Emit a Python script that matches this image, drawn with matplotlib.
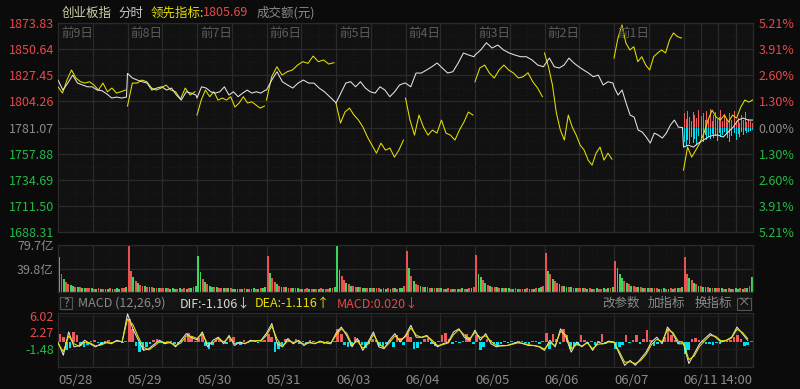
import numpy as np
import matplotlib
matplotlib.use('Agg')
import matplotlib.pyplot as plt
from matplotlib.patches import Rectangle
from matplotlib.transforms import blended_transform_factory

plt.rcParams['font.family'] = ['Noto Sans CJK SC', 'DejaVu Sans']

# ---- data ----
prev_close = 1781.07
last_lead = 1805.69
price_ticks = [1873.83, 1850.64, 1827.45, 1804.26, 1781.07, 1757.88, 1734.69, 1711.50, 1688.31]
dates = ['05/28', '05/29', '05/30', '05/31', '06/03', '06/04', '06/05', '06/06', '06/07', '06/11']
day_tags = ['前9日', '前8日', '前7日', '前6日', '前5日', '前4日', '前3日', '前2日', '前1日']
vol_ticks = [39.8, 79.7]
macd_ticks = [6.02, 2.27, -1.48]

# 创业板指 (white line), one list per day
index_0528 = [1823.2, 1814.3, 1820.5, 1827.6, 1820.5, 1818.8, 1817.2, 1817.2, 1814.3, 1813.7, 1810.8, 1807.2, 1808.1, 1807.2, 1808.1]
index_0529 = [1829.1, 1825.0, 1823.2, 1821.7, 1820.5, 1814.3, 1816.1, 1817.2, 1814.3, 1816.1, 1809.9, 1805.4, 1812.8, 1811.6, 1809.9]
index_0530 = [1807.2, 1817.2, 1816.1, 1812.8, 1811.6, 1812.8, 1817.2, 1809.9, 1812.8, 1808.4, 1811.6, 1814.3, 1811.6, 1812.8, 1811.6, 1814.3]
index_0531 = [1814.3, 1823.2, 1830.6, 1821.7, 1818.8, 1816.1, 1820.5, 1823.2, 1820.5, 1820.5, 1816.1, 1812.8, 1808.4, 1803.9]
index_0603 = [1802.8, 1811.6, 1820.5, 1821.7, 1817.2, 1821.7, 1816.1, 1812.8, 1811.6, 1817.2, 1814.3, 1808.4, 1812.8, 1818.8, 1820.5]
index_0604 = [1820.5, 1817.2, 1829.4, 1829.4, 1832.1, 1835.0, 1838.3, 1833.9, 1829.4, 1830.6, 1838.3, 1847.2, 1845.4, 1843.9]
index_0605 = [1845.4, 1849.9, 1856.3, 1851.6, 1854.3, 1849.9, 1847.2, 1845.4, 1843.9, 1843.9, 1841.0, 1836.5, 1835.0]
index_0606 = [1836.5, 1842.7, 1835.0, 1833.9, 1836.5, 1842.7, 1838.3, 1835.0, 1832.1, 1829.4, 1826.1, 1827.6, 1818.8, 1821.7, 1820.5]
index_0607 = [1817.2, 1809.9, 1814.3, 1802.8, 1792.1, 1790.3, 1778.8, 1777.0, 1772.6, 1767.2, 1776.1, 1774.3, 1771.7, 1776.1, 1783.2, 1787.7, 1781.4, 1781.07]
index_0611 = [1763.7, 1765.4, 1763.7, 1767.2, 1769.9, 1772.6, 1774.3, 1774.3, 1772.6, 1777.0, 1781.4, 1787.7, 1789.4, 1787.7, 1787.7]

# 领先指标 (yellow line), one list per day
lead_0528 = [1817.2, 1811.6, 1823.2, 1832.1, 1825.0, 1821.7, 1820.5, 1821.7, 1818.8, 1814.3, 1820.5, 1812.8, 1816.1, 1811.6, 1812.8, 1814.3]
lead_0529 = [1800.1, 1820.5, 1820.5, 1823.2, 1821.7, 1816.1, 1814.3, 1816.1, 1818.8, 1814.3, 1812.8, 1806.3, 1816.1, 1809.9, 1812.8]
lead_0530 = [1792.1, 1805.4, 1814.3, 1808.4, 1812.8, 1805.4, 1807.2, 1805.4, 1808.4, 1799.2, 1802.8, 1808.4, 1802.8, 1803.9, 1801.0, 1798.3, 1800.1]
lead_0531 = [1805.4, 1826.1, 1835.0, 1827.6, 1830.6, 1832.1, 1836.5, 1839.5, 1838.0, 1844.5, 1839.5, 1841.0, 1837.4, 1838.6]
lead_0603 = [1802.8, 1785.0, 1794.8, 1798.3, 1792.1, 1787.7, 1781.4, 1772.6, 1765.4, 1758.3, 1767.2, 1761.0, 1762.8, 1754.8, 1761.0, 1769.9]
lead_0604 = [1807.2, 1787.7, 1774.3, 1792.1, 1781.4, 1774.3, 1778.8, 1776.1, 1787.7, 1776.1, 1774.3, 1769.9, 1778.8, 1785.9, 1794.8, 1792.1]
lead_0605 = [1821.7, 1833.9, 1836.5, 1829.4, 1825.0, 1832.1, 1836.5, 1832.1, 1829.4, 1825.0, 1826.1, 1829.7, 1821.7, 1816.1, 1808.4]
lead_0606 = [1847.2, 1835.0, 1818.8, 1793.9, 1778.8, 1769.9, 1792.1, 1781.4, 1774.3, 1765.4, 1761.0, 1752.1, 1747.7, 1758.3, 1763.7, 1752.1, 1758.3, 1753.0]
lead_0607 = [1842.7, 1860.5, 1872.1, 1856.1, 1849.9, 1852.8, 1839.5, 1843.9, 1836.5, 1832.1, 1843.9, 1847.2, 1849.9, 1847.2, 1858.7, 1865.0, 1861.7, 1860.5]
lead_0611 = [1743.2, 1763.7, 1754.8, 1761.0, 1767.2, 1776.1, 1787.7, 1796.5, 1790.3, 1787.7, 1792.1, 1785.9, 1792.1, 1789.4, 1799.2, 1805.4, 1803.6, 1805.69]

# today's buy / sell strength bars around the previous close (index points)
buy_bars = [12.6, 7.2, 14.4, 9.0, 5.4, 13.5, 10.8, 8.1, 15.3, 4.5, 9.9, 12.6, 6.3, 14.4, 8.1, 16.2, 5.4, 10.8, 13.5, 7.2,
            9.0, 15.3, 5.4, 11.7, 8.1, 4.5, 12.6, 6.3, 9.9, 14.4, 5.4, 8.1, 3.6, 10.8, 6.3, 13.5, 4.5, 7.2, 5.4, 3.6]
sell_bars = [12.6, 16.2, 10.8, 14.4, 8.1, 13.5, 9.9, 15.3, 7.2, 11.7, 9.0, 12.6, 6.3, 10.8, 8.1, 9.9, 5.4, 9.0, 7.2, 11.7,
             4.5, 8.1, 6.3, 3.6, 5.4, 9.0, 12.6, 7.2, 14.4, 4.5, 10.8, 5.4, 8.1, 3.6, 6.3, 2.7, 4.5, 3.6, 2.7, 1.8]

# turnover (亿), 30 bars per day, with up(r)/down(g) flags
vol_0528 = [60, 30, 22, 17, 14, 12, 10, 9, 8, 8, 7, 7, 6, 6, 6, 5, 5, 6, 5, 5, 5, 5, 6, 5, 5, 6, 5, 6, 7, 9]
vol_0529 = [78, 36, 26, 19, 15, 12, 11, 10, 9, 8, 8, 7, 7, 7, 6, 6, 6, 6, 5, 6, 5, 5, 6, 5, 6, 5, 6, 6, 8, 10]
vol_0530 = [61, 34, 22, 17, 13, 11, 9, 8, 8, 7, 7, 7, 6, 6, 6, 5, 5, 5, 5, 5, 6, 5, 5, 5, 6, 5, 5, 6, 7, 8]
vol_0531 = [61, 32, 23, 17, 13, 10, 9, 9, 8, 7, 7, 6, 6, 6, 5, 5, 5, 6, 5, 5, 5, 5, 5, 6, 5, 5, 5, 6, 7, 9]
vol_0603 = [80, 38, 27, 21, 16, 13, 11, 10, 9, 8, 8, 7, 7, 7, 6, 6, 6, 6, 6, 5, 6, 5, 6, 5, 6, 6, 5, 6, 7, 10]
vol_0604 = [69, 40, 27, 19, 14, 12, 10, 9, 8, 8, 7, 7, 6, 6, 6, 6, 5, 5, 6, 5, 5, 5, 5, 5, 6, 5, 5, 6, 7, 9]
vol_0605 = [63, 30, 25, 20, 16, 12, 10, 9, 8, 8, 7, 7, 6, 6, 6, 5, 5, 6, 5, 5, 5, 5, 6, 5, 5, 5, 6, 6, 8, 11]
vol_0606 = [66, 36, 30, 22, 18, 16, 13, 11, 10, 9, 8, 8, 7, 7, 6, 6, 6, 6, 5, 6, 5, 5, 6, 5, 5, 6, 5, 6, 7, 9]
vol_0607 = [52, 40, 30, 24, 18, 15, 13, 11, 10, 9, 9, 8, 7, 7, 6, 6, 6, 6, 6, 5, 5, 6, 5, 5, 6, 5, 6, 6, 7, 9]
vol_0611 = [59, 31, 24, 20, 16, 13, 11, 10, 9, 8, 8, 7, 7, 6, 6, 6, 6, 5, 5, 6, 5, 5, 6, 5, 6, 5, 6, 7, 10, 26]
vol_dirs = ['grgrrggrgrggrrgrgrgrggrgrggrrg', 'rrgrgrrgrgrgrgrrgrgggrgrrgrgrg',
            'ggrgrggrgrrgrgrgggrgrgrrgrgrgg', 'rgrrgrgrgrrgrgrgrrgrgrgrgrrgrg',
            'ggrrgrgrrgrggrgrgrrgrgrgrgrggr', 'rgrgrrgrgrrgrgrgrgrrgrgrgrgrgr',
            'rggrgrgrrgrgrggrgrgrrgrgrgrggr', 'rgrgrrgrggrgrgrrgrgrgrgrrgrgrg',
            'rgggrgrgrrgrgrgrgrrgrgrgrgrgrg', 'rrgrgrgrggrgrgrrgrgrgrggrgrgrg']

# MACD(12,26,9): 13 line points and 20 histogram bars per day
dif = [0.0, -3.0, 2.3, -1.1, -0.8, 0.4, -0.4, -1.1, -0.4, 0.0, -0.4, 0.4, 0.0,
       6.4, 3.0, 0.5, -1.9, -1.5, -0.5, 0.4, -0.4, 0.0, -1.1, 0.4, 1.9, 1.0,
       0.5, 2.3, -1.1, 0.4, 1.1, -0.4, 1.5, -0.8, 0.0, -0.4, 0.4, 0.2, 0.4,
       2.0, 4.2, -0.4, -1.1, 0.8, -0.4, 0.4, -0.8, 0.0, -0.4, 0.2, -0.2, -0.4,
       2.0, 3.4, 1.5, -1.1, 0.8, -1.9, 0.0, 2.3, -1.1, -1.5, 0.4, 1.9, 0.0,
       1.5, 3.8, 1.1, 1.1, 1.5, 0.0, -1.1, -0.4, 0.0, 2.3, 3.0, 1.1, 0.4,
       2.7, 0.4, 1.9, -0.4, -1.1, -0.8, -0.8, -0.4, 0.0, -0.4, -0.8, -0.8, -1.1,
       -1.9, 0.4, -1.1, 3.0, 1.1, -2.3, 0.0, -1.1, 0.0, -1.9, 0.0, -0.4, 0.2,
       0.0, -2.7, -5.3, -4.2, -5.3, -3.8, -2.3, 0.0, 1.1, -0.4, 3.4, 1.9, -0.4,
       -0.4, -4.9, -2.7, -0.4, 0.8, 1.9, 1.1, 0.0, 0.4, 1.1, 3.4, 1.9, 0.4]
dea = [-0.3, -2.2, 1.4, -0.4, -1.0, 0.0, -0.2, -0.9, -0.7, -0.2, -0.2, 0.2, 0.1,
       5.2, 4.0, 1.2, -1.2, -1.8, -0.9, 0.1, -0.1, -0.2, -0.8, -0.2, 1.4, 1.3,
       0.8, 1.8, -0.4, -0.2, 0.9, 0.0, 1.1, -0.3, -0.3, -0.3, 0.2, 0.3, 0.3,
       1.5, 3.6, 0.6, -1.0, 0.3, -0.1, 0.2, -0.5, -0.2, -0.3, 0.0, -0.1, -0.3,
       1.5, 3.0, 2.0, -0.6, 0.2, -1.4, -0.5, 1.7, -0.3, -1.4, -0.2, 1.4, 0.5,
       1.2, 3.2, 1.6, 1.0, 1.3, 0.4, -0.8, -0.6, -0.2, 1.7, 2.8, 1.6, 0.7,
       2.2, 1.0, 1.4, 0.1, -0.8, -0.9, -0.8, -0.5, -0.2, -0.3, -0.6, -0.8, -1.0,
       -1.6, -0.2, -0.8, 2.4, 1.6, -1.6, -0.6, -0.9, -0.2, -1.5, -0.5, -0.4, 0.0,
       -0.1, -2.2, -4.6, -4.5, -4.9, -4.2, -2.8, -0.6, 0.6, 0.1, 2.8, 2.2, 0.2,
       -0.2, -4.0, -3.2, -1.0, 0.3, 1.5, 1.3, 0.3, 0.3, 0.9, 2.9, 2.2, 0.8]
macd_hist = [1.8, 1.2, -1.9, -1.4, 2.3, 1.5, -0.8, -1.1, -0.6, 0.3, 0.5, -0.3, -0.6, 0.2, 0.4, -0.3, 0.2, 0.3, -0.2, 0.3,
             5.3, 3.0, -1.0, -2.3, -1.8, -1.2, -0.5, 0.4, 0.6, -0.3, -0.5, 0.3, 0.2, -0.4, -0.6, 0.5, 1.0, 2.0, 1.2, 0.3,
             1.0, 1.8, -0.9, -1.5, -0.6, 0.5, 0.8, 0.3, -0.4, 0.7, 1.2, -0.3, -0.6, 0.4, -0.3, 0.2, 0.3, -0.2, 0.2, 0.5,
             1.9, 1.2, -2.3, -1.5, -0.6, 0.8, 0.4, -0.3, 0.6, -0.5, 0.3, -0.4, 0.5, 0.2, -0.3, 0.3, -0.5, 0.2, -0.3, 0.2,
             3.0, 1.8, -0.6, -1.2, -0.8, 1.1, 0.5, -0.6, -1.3, -0.4, 0.6, 0.4, -0.9, -1.1, -0.5, 0.4, -1.2, 1.5, 0.9, -0.6,
             2.0, 1.2, -1.5, -1.4, -0.5, 0.6, 0.9, -0.4, -0.8, 0.3, 1.6, 2.0, 0.8, -0.5, 0.3, -0.3, 0.2, 1.8, 1.1, -0.4,
             1.5, -1.9, -1.2, 0.7, 0.4, -0.5, -0.6, -0.4, 0.3, -0.3, 0.2, -0.4, 0.3, 0.2, -0.3, -0.5, 0.2, 0.3, -0.4, 0.2,
             2.0, -1.5, 1.8, 0.6, -0.5, 3.0, 1.5, -1.5, -1.2, -0.6, 1.5, 0.4, -0.4, 0.3, -0.6, 0.3, 1.8, -0.4, 0.3, -0.3,
             -1.5, -1.2, -0.6, 1.5, -0.3, 0.4, 1.5, -0.4, 0.6, 2.7, 0.4, -1.0, -0.5, 0.3, 1.2, 3.0, 1.6, 0.4, -0.3, 0.2,
             -2.7, -1.8, 0.6, 1.0, 0.5, 0.3, -0.4, -0.5, -0.6, -0.3, -0.4, 0.2, 0.3, 0.4, 1.1, 1.5, 0.6, -0.8, -0.6, 0.3]

index_days = [index_0528, index_0529, index_0530, index_0531, index_0603,
              index_0604, index_0605, index_0606, index_0607, index_0611]
lead_days = [lead_0528, lead_0529, lead_0530, lead_0531, lead_0603,
             lead_0604, lead_0605, lead_0606, lead_0607, lead_0611]
vol_days = [vol_0528, vol_0529, vol_0530, vol_0531, vol_0603,
            vol_0604, vol_0605, vol_0606, vol_0607, vol_0611]

# ---- colours ----
BG = '#0b0b0b'
PANEL = '#111111'
GRID = '#2a2a2a'
GRID_MINOR = '#1c1c1c'
RED = '#e8484a'
GREEN = '#25b847'
YELLOW = '#e6e000'
WHITE = '#e4e4e4'
CYAN = '#00dfee'
GREY = '#8a8a8a'
TAG = '#5c5c5c'
LW = 0.75

W, H = 800, 389


def fig_rect(x0, y0, x1, y1):
    # pixel box (top-left origin) -> figure fraction rect
    return [x0 / W, 1 - y1 / H, (x1 - x0) / W, (y1 - y0) / H]


def draw_grid(ax):
    major = [d + f for d in range(9) for f in (0.5, 1.0)] + [9.25, 9.5, 9.75]
    minor = [d + f for d in range(9) for f in (0.25, 0.75)]
    for x in minor:
        ax.axvline(x, color=GRID_MINOR, lw=0.8, ls=(0, (1, 2)), zorder=0)
    for x in major:
        ax.axvline(x, color=GRID, lw=0.9, zorder=0)
    ax.set_xlim(0, 10)
    ax.set_facecolor(PANEL)
    for s in ax.spines.values():
        s.set_color(GRID)
        s.set_linewidth(0.9)
    ax.tick_params(axis='both', length=0, labelsize=9)
    ax.set_xticks([])


fig = plt.figure(figsize=(W / 100, H / 100), dpi=100, facecolor=BG)

# ---- main price panel ----
ax = fig.add_axes(fig_rect(58, 23, 753, 232))
draw_grid(ax)
ax.set_ylim(price_ticks[-1], price_ticks[0])
for i in range(len(price_ticks) - 1):
    ax.axhline((price_ticks[i] + price_ticks[i + 1]) / 2, color=GRID_MINOR, lw=0.8, ls=(0, (1, 2)), zorder=0)
for p in price_ticks:
    ax.axhline(p, color=GRID, lw=0.9, zorder=0)
ax.set_yticks(price_ticks)
ax.set_yticklabels(['%.2f' % p for p in price_ticks])
ax.tick_params(axis='y', pad=3)
for lbl, p in zip(ax.get_yticklabels(), price_ticks):
    lbl.set_color(RED if p > prev_close + 0.01 else (GREEN if p < prev_close - 0.01 else GREY))

axr = ax.twinx()
axr.set_ylim(ax.get_ylim())
axr.set_yticks(price_ticks)
axr.set_yticklabels(['%.2f%%' % abs((p - prev_close) / prev_close * 100) for p in price_ticks])
axr.tick_params(axis='y', length=0, labelsize=9, pad=4)
for s in axr.spines.values():
    s.set_visible(False)
for lbl, p in zip(axr.get_yticklabels(), price_ticks):
    lbl.set_color(RED if p > prev_close + 0.01 else (GREEN if p < prev_close - 0.01 else GREY))

# today's strength bars
nb = len(buy_bars)
bx = 9 + (np.arange(nb) + 0.5) / nb
ax.bar(bx, buy_bars, bottom=prev_close, width=0.55 / nb, color='#f25d5d', lw=0, zorder=2)
ax.bar(bx, [-v for v in sell_bars], bottom=prev_close, width=0.55 / nb, color=CYAN, lw=0, zorder=2)

# white index line (continuous across days)
wx, wy = [], []
for d, vals in enumerate(index_days):
    span = 1.0 if d == 9 else 0.985
    wx.extend(d + np.linspace(0, span, len(vals)))
    wy.extend(vals)
ax.plot(wx, wy, color=WHITE, lw=LW, zorder=4)

# yellow leading indicator, broken between days
for d, vals in enumerate(lead_days):
    span = 1.0 if d == 9 else 0.97
    ax.plot(d + np.linspace(0, span, len(vals)), vals, color=YELLOW, lw=LW, zorder=3)

tr = blended_transform_factory(ax.transData, ax.transAxes)
for d, tag in enumerate(day_tags):
    ax.text(d + 0.045, 0.952, tag, transform=tr, color=TAG, fontsize=9, va='center', ha='left', zorder=5)

# ---- volume panel ----
axv = fig.add_axes(fig_rect(58, 245, 753, 292))
draw_grid(axv)
axv.set_ylim(0, vol_ticks[-1])
for v in vol_ticks:
    axv.axhline(v, color=GRID, lw=0.9, zorder=0)
for d, (vals, dirs) in enumerate(zip(vol_days, vol_dirs)):
    n = len(vals)
    x = d + (np.arange(n) + 0.5) / n
    cols = ['#e8524f' if c == 'r' else '#3dd65a' for c in dirs]
    axv.bar(x, vals, width=0.8 / n, color=cols, lw=0, zorder=2)
axv.set_yticks(vol_ticks)
axv.set_yticklabels(['%.1f亿' % v for v in vol_ticks], color=GREY)
axv.tick_params(axis='y', pad=3)

# ---- MACD header band ----
fig.patches.append(Rectangle((58 / W, 1 - 311 / H), 695 / W, 17 / H, transform=fig.transFigure,
                             facecolor='#141414', edgecolor='none', zorder=0))
fig.patches.append(Rectangle((60 / W, 1 - 309 / H), 12 / W, 12 / H, transform=fig.transFigure,
                             facecolor='none', edgecolor='#555555', lw=0.8))
fig.patches.append(Rectangle((737 / W, 1 - 310 / H), 14 / W, 12 / H, transform=fig.transFigure,
                             facecolor='none', edgecolor='#555555', lw=0.8))
hy = 1 - 303.5 / H
fig.text(66 / W, hy, '?', color=GREY, fontsize=8.5, ha='center', va='center')
fig.text(744 / W, hy, '×', color=GREY, fontsize=9, ha='center', va='center')
fig.text(78 / W, hy, 'MACD (12,26,9)', color=GREY, fontsize=9, va='center')
fig.text(180 / W, hy, 'DIF:-1.106↓', color='#d8d8d8', fontsize=9, va='center')
fig.text(255 / W, hy, 'DEA:-1.116↑', color=YELLOW, fontsize=9, va='center')
fig.text(337 / W, hy, 'MACD:0.020↓', color=RED, fontsize=9, va='center')
for x, t in [(602, '改参数'), (648, '加指标'), (695, '换指标')]:
    fig.text(x / W, hy, t, color=GREY, fontsize=9, va='center')

# ---- MACD panel ----
axm = fig.add_axes(fig_rect(58, 313, 753, 367))
draw_grid(axm)
axm.set_ylim(-5.68, 6.6)
for v in macd_ticks:
    axm.axhline(v, color=GRID_MINOR, lw=0.8, zorder=0)
nh = len(macd_hist) // 10
hx = np.concatenate([d + (np.arange(nh) + 0.5) / nh for d in range(10)])
axm.bar(hx, macd_hist, width=0.75 / nh, color=['#f05a5a' if v > 0 else CYAN for v in macd_hist], lw=0, zorder=2)
nl = len(dif) // 10
lx = np.concatenate([d + np.linspace(0, 1, nl, endpoint=False) for d in range(10)])
axm.plot(lx, dif, color=WHITE, lw=LW, zorder=3)
axm.plot(lx, dea, color=YELLOW, lw=LW, zorder=3)
axm.set_yticks(macd_ticks)
axm.set_yticklabels(['%.2f' % v for v in macd_ticks])
axm.tick_params(axis='y', pad=3)
for lbl, v in zip(axm.get_yticklabels(), macd_ticks):
    lbl.set_color(RED if v > 0 else GREEN)

# date axis under the MACD panel
axm.set_xticks(list(range(10)) + [10])
axm.set_xticklabels(dates + ['14:00'], color=GREY, fontsize=9.5)
axm.tick_params(axis='x', pad=5)
for lbl in axm.get_xticklabels()[:-1]:
    lbl.set_ha('left')
axm.get_xticklabels()[-1].set_ha('right')

# ---- title line ----
ty = 1 - 13 / H
fig.text(62 / W, ty, '创业板指', color='#cfcfa6', fontsize=9, va='center')
fig.text(118 / W, ty, '分时', color='#c8c8c8', fontsize=9, va='center')
fig.text(151 / W, ty, '领先指标:', color=YELLOW, fontsize=9, va='center')
fig.text(203 / W, ty, '%.2f' % last_lead, color=RED, fontsize=9, va='center')
fig.text(257 / W, ty, '成交额(元)', color=GREY, fontsize=9, va='center')

fig.savefig('out.png', dpi=100, facecolor=BG)
